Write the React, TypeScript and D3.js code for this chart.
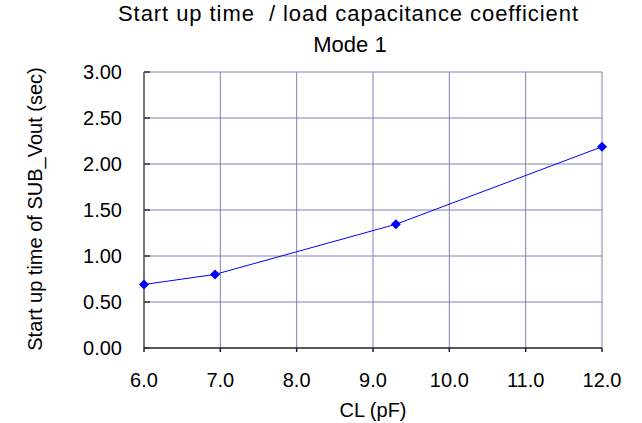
import React from "react";
import * as d3 from "d3";

// values
const capacitance = [6.0, 6.93, 9.3, 12.0];
const startupTime = [0.69, 0.8, 1.345, 2.187];
const xTicks = [6, 7, 8, 9, 10, 11, 12];
const yTicks = [0, 0.5, 1, 1.5, 2, 2.5, 3];

const width = 642, height = 423;
const margin = { top: 72, right: 40, bottom: 75, left: 144 };

const App: React.FC = () => {
  const x = d3.scaleLinear().domain([6, 12]).range([margin.left, width - margin.right]);
  const y = d3.scaleLinear().domain([0, 3]).range([height - margin.bottom, margin.top]);
  const pts: [number, number][] = capacitance.map((c, i) => [c, startupTime[i]]);
  const line = d3.line<[number, number]>().x(d => x(d[0])).y(d => y(d[1]));
  const grid = "#8080b4";
  const font = "'Liberation Sans', Arial, sans-serif";
  const marker = d3.symbol(d3.symbolSquare, 50)() ?? "";

  return (
    <svg width={width} height={height} style={{ position: "absolute", left: 0, top: 0, background: "#fff" }}
      fontFamily={font}>
      <text x={348} y={21} textAnchor="middle" fontSize={22} textLength={460} lengthAdjust="spacing"
        style={{ whiteSpace: "pre" }}>
        {"Start up time  / load capacitance coefficient"}
      </text>
      <text x={350} y={52} textAnchor="middle" fontSize={22}>Mode 1</text>

      {/* grid */}
      {xTicks.slice(1).map(t => (
        <line key={"gx" + t} x1={x(t)} x2={x(t)} y1={y(3)} y2={y(0)} stroke={grid} strokeWidth={1} />
      ))}
      {yTicks.slice(1).map(t => (
        <line key={"gy" + t} x1={x(6)} x2={x(12)} y1={y(t)} y2={y(t)} stroke={grid} strokeWidth={1} />
      ))}

      {/* axes */}
      <line x1={x(6)} x2={x(6)} y1={y(3)} y2={y(0)} stroke="#777" strokeWidth={2} />
      <line x1={x(6)} x2={x(12)} y1={y(0)} y2={y(0)} stroke="#222" strokeWidth={1.5} />
      {yTicks.map(t => (
        <g key={"ty" + t}>
          <line x1={x(6)} x2={x(6) + 6} y1={y(t)} y2={y(t)} stroke="#333" strokeWidth={1.5} />
          <text x={122} y={y(t) + 7} textAnchor="end" fontSize={20}>{t.toFixed(2)}</text>
        </g>
      ))}
      {xTicks.map(t => (
        <g key={"tx" + t}>
          <line x1={x(t)} x2={x(t)} y1={y(0)} y2={y(0) + 4} stroke="#222" strokeWidth={1.5} />
          <text x={x(t)} y={387} textAnchor="middle" fontSize={20}>{t.toFixed(1)}</text>
        </g>
      ))}

      <text x={373} y={417} textAnchor="middle" fontSize={20}>CL (pF)</text>
      <text transform={`translate(42,209) rotate(-90)`} textAnchor="middle" fontSize={20}>
        Start up time of SUB_Vout (sec)
      </text>

      {/* series */}
      <path d={line(pts) ?? ""} fill="none" stroke="#0000ff" strokeWidth={1} />
      {pts.map((p, i) => (
        <path key={"m" + i} d={marker}
          transform={`translate(${x(p[0])},${y(p[1])}) rotate(45)`} fill="#0000ff" />
      ))}
    </svg>
  );
};

export default App;
